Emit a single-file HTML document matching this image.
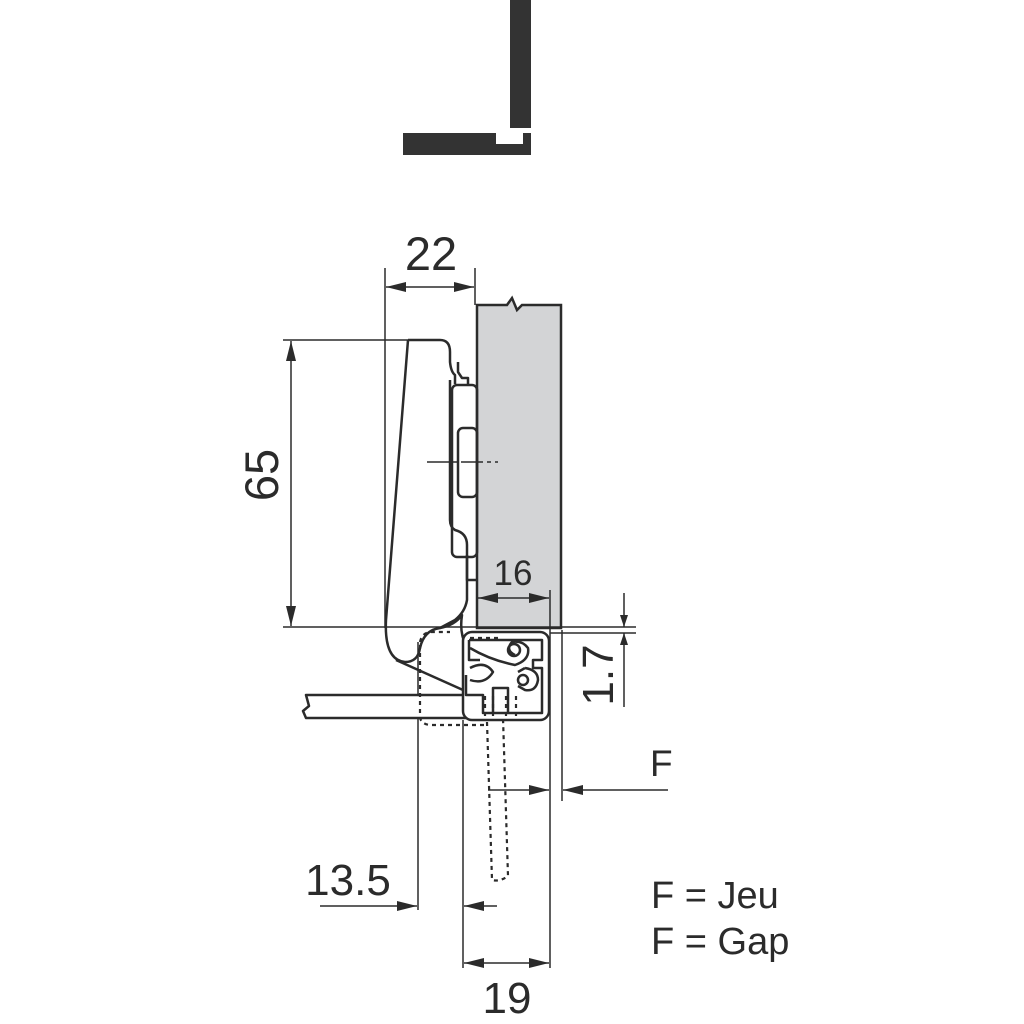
<!DOCTYPE html>
<html><head><meta charset="utf-8"><style>
html,body{margin:0;padding:0;background:#fff;width:1024px;height:1024px;overflow:hidden}
svg{display:block}
text{font-family:"Liberation Sans",Arial,sans-serif;fill:#2b2b2b}
</style></head><body>
<svg width="1024" height="1024" viewBox="0 0 1024 1024" xmlns="http://www.w3.org/2000/svg">
<defs>
<marker id="a" viewBox="0 0 20 10" refX="20" refY="5" markerWidth="20" markerHeight="10" markerUnits="userSpaceOnUse" orient="auto-start-reverse"><path d="M0,0 L20,5 L0,10 z" fill="#2b2b2b"/></marker>
<marker id="b" viewBox="0 0 12 8" refX="12" refY="4" markerWidth="12" markerHeight="8" markerUnits="userSpaceOnUse" orient="auto-start-reverse"><path d="M0,0 L12,4 L0,8 z" fill="#2b2b2b"/></marker>
</defs>
<rect x="510" y="0" width="21" height="128" fill="#333"/>
<path d="M403,133 H496 V144 H523 V133 H531 V155 H403 Z" fill="#333"/>

<path d="M477,305 H507 L512,298 L517,310 L522,305 H561 V628 H477 Z" fill="#d3d4d6" stroke="#2b2b2b" stroke-width="2.5"/>

<g fill="none" stroke="#2b2b2b" stroke-width="1.5">
<line x1="385" y1="268" x2="385" y2="628"/>
<line x1="475" y1="268" x2="475" y2="305"/>
<line x1="386" y1="287" x2="474" y2="287" marker-start="url(#a)" marker-end="url(#a)"/>
<line x1="283" y1="340" x2="410" y2="340"/>
<line x1="283" y1="627" x2="636" y2="627"/>
<line x1="550" y1="633" x2="636" y2="633"/>
<line x1="291" y1="341" x2="291" y2="626" marker-start="url(#a)" marker-end="url(#a)"/>
<line x1="478" y1="598" x2="549" y2="598" marker-start="url(#a)" marker-end="url(#a)"/>
<line x1="550" y1="590" x2="550" y2="968"/>
<line x1="624" y1="593" x2="624" y2="627" marker-end="url(#b)"/>
<line x1="624" y1="707" x2="624" y2="633" marker-end="url(#b)"/>
<line x1="418" y1="642" x2="418" y2="910"/>
<line x1="463" y1="720" x2="463" y2="968"/>
<line x1="562" y1="630" x2="562" y2="801"/>
<line x1="488" y1="790" x2="549" y2="790" marker-end="url(#a)"/>
<line x1="668" y1="790" x2="563" y2="790" marker-end="url(#a)"/>
<line x1="320" y1="906" x2="417" y2="906" marker-end="url(#a)"/>
<line x1="497" y1="906" x2="464" y2="906" marker-end="url(#a)"/>
<line x1="464" y1="963" x2="549" y2="963" marker-start="url(#a)" marker-end="url(#a)"/>
<line x1="427" y1="462" x2="498" y2="462" stroke-dasharray="22,4,4,4"/>
</g>

<g fill="none" stroke="#2b2b2b" stroke-width="2.5" stroke-linejoin="round">
<path d="M408,340 H440 Q450,340 450,352 V362 Q451,372 455,375 V384"/>
<path d="M408,340 L386,620 Q384,660 405,662 Q418,662 420,648 Q424,630 440,628 L455,620 Q465,612 467,600 V545 Q467,533 455,530 Q450,527 450,520 V380"/>
<path d="M458,362 L458,372 L462,378 L468,378 L468,385"/>
<path d="M396,660 L463,690"/>
<path d="M440,628 Q455,625 462,615 Q460,628 463,638 L467,645"/>
<rect x="452" y="385" width="25" height="172" rx="5"/>
<rect x="458" y="428" width="19" height="69" rx="5"/>
<path d="M467,555 V580 H477"/>
<path d="M306,695 H486 V718 H306 L303,711 L309,706 Z" fill="#fff"/>
<rect x="463" y="632" width="86" height="88" rx="9" fill="#fff"/>
<path d="M469,640 H542 V660 H533 V668 H542 V713 H483 V695 H466 V675 M493,713 V688 H508 V713 M469,640 L469,660 L480,660"/>
<path d="M470,648 Q490,660 515,665 Q530,660 528,648 Q522,640 512,642 Q505,650 515,655"/>
<circle cx="514" cy="650" r="6"/>
<path d="M470,668 Q485,660 493,672 Q485,685 470,680"/>
<path d="M525,668 Q538,670 538,680 Q536,692 525,690 L518,686 M518,672 L525,668"/>
<circle cx="523" cy="680" r="5"/>
</g>
<g fill="none" stroke="#2b2b2b" stroke-width="2.2" stroke-dasharray="4,4">
<path d="M470,638 H500"/>
<path d="M420,642 Q422,632 432,632 L450,632"/>
<path d="M420,645 V718 Q422,725 432,725 H486"/>
<path d="M485,696 V718 M493,696 V718 M506,696 V718 M516,696 V718"/>
<path d="M487,722 L492,880 Q500,882 508,876 L503,718"/>
</g>

<text x="431" y="270" font-size="47" text-anchor="middle">22</text>
<text transform="translate(278,475) rotate(-90)" font-size="47" text-anchor="middle">65</text>
<text x="513" y="585" font-size="35" text-anchor="middle">16</text>
<text transform="translate(613,675) rotate(-90)" font-size="44" text-anchor="middle">1.7</text>
<text x="650" y="776" font-size="37">F</text>
<text x="348" y="895" font-size="44" text-anchor="middle">13.5</text>
<text x="507" y="1013" font-size="44" text-anchor="middle">19</text>
<text x="651" y="908" font-size="38">F = Jeu</text>
<text x="651" y="954" font-size="38">F = Gap</text>
</svg>
</body></html>
